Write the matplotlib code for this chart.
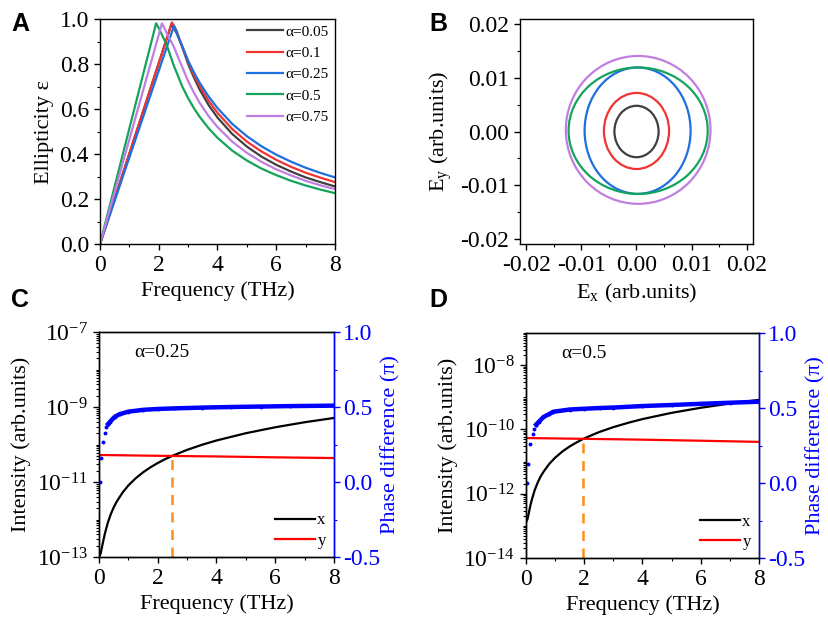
import matplotlib.pyplot as plt
import numpy as np
from matplotlib.patches import Ellipse
from matplotlib.ticker import MultipleLocator, FixedLocator, LogLocator, NullFormatter, FuncFormatter

plt.rcParams['font.family'] = ['Liberation Serif', 'DejaVu Serif']
plt.rcParams['mathtext.fontset'] = 'stix'
plt.rcParams['axes.unicode_minus'] = False
plt.rcParams['axes.linewidth'] = 1.0

# ---- panel A : ellipticity vs frequency
labels_a = ['α=0.05', 'α=0.1', 'α=0.25', 'α=0.5', 'α=0.75']
colors_a = ['#404040', '#F03434', '#1E6FE0', '#14A35C', '#C07FE0']

f_a005 = [0, 2.43, 2.6, 2.8, 3.0, 3.2, 3.4, 3.7, 4, 4.5, 5, 5.5, 6, 6.5, 7, 7.5, 8]
e_a005 = [0, 0.976, 0.94, 0.876, 0.80, 0.739, 0.685, 0.617, 0.562, 0.489, 0.433, 0.388, 0.352,
          0.322, 0.296, 0.275, 0.256]
f_a01 = [0, 2.45, 2.6, 2.8, 3.0, 3.2, 3.4, 3.7, 4, 4.5, 5, 5.5, 6, 6.5, 7, 7.5, 8]
e_a01 = [0, 0.985, 0.95, 0.876, 0.809, 0.750, 0.70, 0.636, 0.583, 0.511, 0.455, 0.411, 0.374,
         0.343, 0.317, 0.295, 0.275]
f_a025 = [0, 2.52, 2.7, 3.0, 3.2, 3.4, 3.7, 4, 4.5, 5, 5.5, 6, 6.5, 7, 7.5, 8]
e_a025 = [0, 0.970, 0.911, 0.815, 0.762, 0.715, 0.655, 0.604, 0.534, 0.479, 0.434, 0.397, 0.366,
          0.339, 0.316, 0.296]
f_a05 = [0, 1.91, 2.0, 2.27, 2.5, 2.8, 3.0, 3.2, 3.4, 3.7, 4, 4.5, 5, 5.5, 6, 6.5, 7, 7.5, 8]
e_a05 = [0, 0.981, 0.96, 0.885, 0.797, 0.70, 0.648, 0.603, 0.564, 0.514, 0.472, 0.415, 0.371,
         0.335, 0.306, 0.281, 0.260, 0.242, 0.226]
f_a075 = [0, 2.11, 2.3, 2.5, 2.8, 3.0, 3.2, 3.4, 3.7, 4, 4.5, 5, 5.5, 6, 6.5, 7, 7.5, 8]
e_a075 = [0, 0.981, 0.93, 0.88, 0.786, 0.724, 0.672, 0.626, 0.568, 0.52, 0.455, 0.405, 0.365,
          0.332, 0.305, 0.281, 0.261, 0.244]

freqs_a = [f_a005, f_a01, f_a025, f_a05, f_a075]
eps_a = [e_a005, e_a01, e_a025, e_a05, e_a075]

# ---- panel B : polarization ellipses
cx_b = [0.0, 0.0, 0.0002, 0.0003, 0.0003]
cy_b = [0.0, 0.0001, 0.00015, 0.00015, 0.0003]
rx_b = [0.0040, 0.0059, 0.0096, 0.0126, 0.0131]
ry_b = [0.0048, 0.0071, 0.0118, 0.0118, 0.0138]

# ---- panel C : alpha = 0.25
f_xc = [0, 0.05, 0.1, 0.15, 0.2, 0.3, 0.4, 0.5, 0.6, 0.8, 1.0, 1.25, 1.5, 1.75, 2.0, 2.25, 2.5,
        3, 3.5, 4, 5, 6, 7, 8]
i_xc = [1.0e-13, 1.2e-13, 1.8e-13, 2.8e-13, 4.2e-13, 8.2e-13, 1.38e-12, 2.1e-12, 2.98e-12,
        5.2e-12, 8.1e-12, 1.26e-11, 1.81e-11, 2.46e-11, 3.21e-11, 4.06e-11, 5.0e-11, 7.2e-11,
        9.8e-11, 1.28e-10, 2.0e-10, 2.88e-10, 3.92e-10, 5.1e-10]
f_yc = [0, 2, 4, 6, 8]
i_yc = [5.25e-11, 5.0e-11, 4.8e-11, 4.55e-11, 4.35e-11]
f_phc = [0.04, 0.08, 0.14, 0.19, 0.25, 0.31, 0.37, 0.45, 0.54, 0.7, 1.0, 1.5, 2.0, 2.6, 3.5, 4.5,
         5.5, 6.5, 8.0]
ph_c = [0.0, 0.16, 0.265, 0.33, 0.365, 0.387, 0.40, 0.418, 0.435, 0.452, 0.469, 0.481, 0.487,
        0.491, 0.496, 0.500, 0.503, 0.506, 0.509]

# ---- panel D : alpha = 0.5
f_xd = [0, 0.05, 0.1, 0.15, 0.2, 0.3, 0.4, 0.5, 0.6, 0.8, 1.0, 1.25, 1.5, 1.75, 1.97, 2.25, 2.5,
        3, 3.5, 4, 5, 6, 7, 8]
i_xd = [1.3e-13, 1.6e-13, 2.6e-13, 4.3e-13, 6.5e-13, 1.31e-12, 2.2e-12, 3.4e-12, 4.8e-12,
        8.5e-12, 1.32e-11, 2.06e-11, 2.96e-11, 4.0e-11, 5.1e-11, 6.6e-11, 8.2e-11, 1.18e-10,
        1.6e-10, 2.1e-10, 3.28e-10, 4.72e-10, 6.4e-10, 8.3e-10]
f_yd = [0, 2, 4, 6, 8]
i_yd = [5.4e-11, 5.1e-11, 4.8e-11, 4.45e-11, 4.1e-11]
f_phd = [0.02, 0.06, 0.14, 0.23, 0.28, 0.35, 0.45, 0.6, 0.8, 0.94, 1.5, 2.0, 2.54, 3, 4, 5, 6, 7, 8]
ph_d = [0.0, 0.13, 0.26, 0.33, 0.36, 0.39, 0.41, 0.44, 0.46, 0.475, 0.49, 0.495, 0.50, 0.503,
        0.513, 0.52, 0.528, 0.535, 0.542]

cross_f = [2.5, 1.97]
cross_i = [5.1e-11, 5.1e-11]

W, H = 829, 622
fig = plt.figure(figsize=(W / 100, H / 100), dpi=100)


def px_axes(left, top, right, bottom):
    return fig.add_axes([left / W, 1 - bottom / H, (right - left) / W, (bottom - top) / H])


def style(ax):
    ax.tick_params(which='both', direction='out', labelsize=17, top=False, right=False)
    ax.tick_params(which='major', length=4.5, width=1.0)
    ax.tick_params(which='minor', length=2.5, width=0.8)


# A
axA = px_axes(100, 19, 335, 244)
for f, e, lab, c in zip(freqs_a, eps_a, labels_a, colors_a):
    axA.plot(f, e, color=c, lw=1.6, label=lab)
axA.set_xlim(0, 8)
axA.set_ylim(0, 1.0)
axA.xaxis.set_major_locator(MultipleLocator(2))
axA.xaxis.set_minor_locator(MultipleLocator(1))
axA.yaxis.set_major_locator(MultipleLocator(0.2))
axA.yaxis.set_minor_locator(MultipleLocator(0.1))
axA.yaxis.set_major_formatter(FuncFormatter(lambda v, p: f'{v:.1f}'))
style(axA)
axA.set_xlabel('Frequency (THz)', fontsize=16)
axA.set_ylabel('Ellipticity ε', fontsize=16)
axA.legend(loc='upper right', frameon=False, fontsize=11, handlelength=2.3,
           handletextpad=0.2, labelspacing=0.5, borderaxespad=0.0, borderpad=0.4)

# B
axB = px_axes(520, 19, 753, 244)
for x0, y0, rx, ry, c in zip(cx_b, cy_b, rx_b, ry_b, colors_a):
    axB.add_patch(Ellipse((x0, y0), 2 * rx, 2 * ry, fill=False, edgecolor=c, lw=1.6))
axB.set_xlim(-0.0211, 0.0211)
axB.set_ylim(-0.021, 0.021)
for axis in (axB.xaxis, axB.yaxis):
    axis.set_major_locator(MultipleLocator(0.01))
    axis.set_minor_locator(MultipleLocator(0.005))
    axis.set_major_formatter(FuncFormatter(lambda v, p: f'{v:.2f}'))
style(axB)
axB.set_xlabel(r'E$_\mathregular{x}$ (arb.units)', fontsize=16)
axB.set_ylabel(r'E$_\mathregular{y}$ (arb.units)', fontsize=16)


def log_fmt(v, p):
    return r'$\mathregular{10^{%d}}$' % int(round(np.log10(v)))


def intensity_panel(ax, fx, ix, fy, iy, fph, ph, ylo, majors, cf, ci, note):
    ax.plot(fx, ix, color='black', lw=1.6, label='x')
    ax.plot(fy, iy, color='#FF0000', lw=1.6, label='y')
    ax.vlines(cf, ylo, ci, colors='#FF8C1A', linestyles=(0, (4, 3)), lw=1.8)
    ax.set_yscale('log')
    ax.set_xlim(0, 8)
    ax.set_ylim(ylo, 1e-7)
    ax.yaxis.set_major_locator(FixedLocator(majors))
    ax.yaxis.set_major_formatter(FuncFormatter(log_fmt))
    ax.yaxis.set_minor_locator(LogLocator(base=10, subs=np.arange(1, 10), numticks=100))
    ax.yaxis.set_minor_formatter(NullFormatter())
    ax.xaxis.set_major_locator(MultipleLocator(2))
    ax.xaxis.set_minor_locator(MultipleLocator(1))
    style(ax)
    ax.set_xlabel('Frequency (THz)', fontsize=16)
    ax.set_ylabel('Intensity (arb.units)', fontsize=16)
    ax.text(0.15, 0.91, note, transform=ax.transAxes, fontsize=14, va='center')
    ax.legend(loc='lower right', frameon=False, fontsize=12, handlelength=2.4,
              handletextpad=0.15, labelspacing=0.25, borderaxespad=0.0, borderpad=0.5)

    tw = ax.twinx()
    tw.plot(fph[:6], ph[:6], 'o', color='#0000FF', ms=2.8, mec='none')
    tw.plot(fph[5:], ph[5:], '-o', color='#0000FF', ms=2.8, lw=3.2, mec='none')
    tw.set_ylim(-0.5, 1.0)
    tw.yaxis.set_major_locator(MultipleLocator(0.5))
    tw.yaxis.set_minor_locator(MultipleLocator(0.25))
    tw.yaxis.set_major_formatter(FuncFormatter(lambda v, p: f'{v:.1f}'))
    tw.tick_params(which='both', direction='out', colors='#0000FF', labelsize=17, pad=2)
    tw.tick_params(which='major', length=4.5, width=1.0)
    tw.tick_params(which='minor', length=2.5, width=0.8)
    tw.spines['right'].set_color('#0000FF')
    tw.set_ylabel('Phase difference (π)', fontsize=16, color='#0000FF', labelpad=1)
    return tw


axC = px_axes(99, 332, 334, 557)
intensity_panel(axC, f_xc, i_xc, f_yc, i_yc, f_phc, ph_c, 1e-13,
                [1e-13, 1e-11, 1e-9, 1e-7], cross_f[0], cross_i[0], 'α=0.25')

axD = px_axes(526, 333, 759, 558)
intensity_panel(axD, f_xd, i_xd, f_yd, i_yd, f_phd, ph_d, 1e-14,
                [1e-14, 1e-12, 1e-10, 1e-8], cross_f[1], cross_i[1], 'α=0.5')

# panel letters
for lab, x, y in [('A', 11, 12), ('B', 429, 12), ('C', 11, 288), ('D', 429, 288)]:
    fig.text(x / W, 1 - y / H, lab, fontsize=18, fontweight='bold',
             family='Liberation Sans', va='top', ha='left')

fig.savefig('out.png', dpi=100)
